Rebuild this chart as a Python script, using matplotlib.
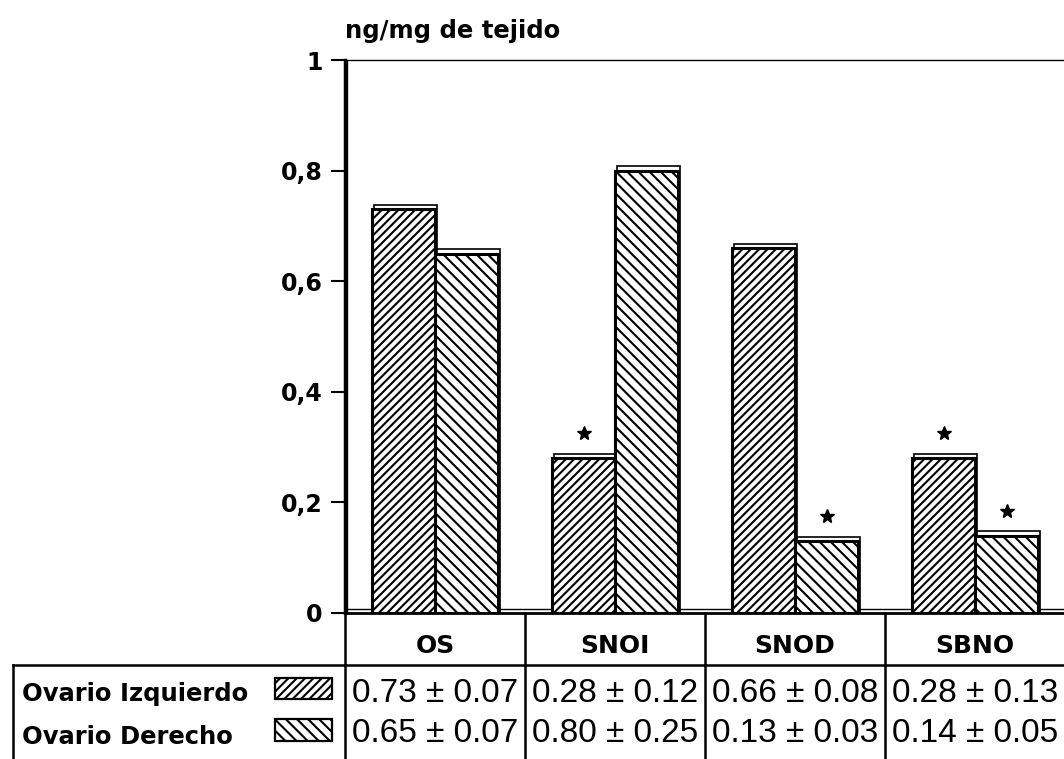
import matplotlib.pyplot as plt
from matplotlib.patches import Rectangle
from matplotlib.lines import Line2D

categories = ["OS", "SNOI", "SNOD", "SBNO"]
izquierdo = [0.73, 0.28, 0.66, 0.28]
derecho = [0.65, 0.80, 0.13, 0.14]
izq_err = [0.07, 0.12, 0.08, 0.13]
der_err = [0.07, 0.25, 0.03, 0.05]
izq_star = [False, True, False, True]
der_star = [False, False, True, True]
yticks = [0, 0.2, 0.4, 0.6, 0.8, 1]
ytick_labels = ["0", "0,2", "0,4", "0,6", "0,8", "1"]

plt.rcParams["font.family"] = ["DejaVu Sans"]
plt.rcParams["hatch.linewidth"] = 1.5

W, H = 1064, 759
fig = plt.figure(figsize=(W / 100, H / 100), dpi=100)

# overlay in pixel coordinates for the table
ov = fig.add_axes([0, 0, 1, 1])
ov.set_xlim(0, W)
ov.set_ylim(H, 0)
ov.axis("off")

# main axes
x0, x1, ytop, ybot = 345, W + 1, 60, 613
ax = fig.add_axes([x0 / W, (H - ybot) / H, (x1 - x0) / W, (ybot - ytop) / H])
ax.set_xlim(0, 4)
ax.set_ylim(0, 1)

bw = 0.35
hatch_izq = "////"
hatch_der = "\\\\\\"
xs = [i + 0.5 for i in range(len(categories))]
for i, x in enumerate(xs):
    for xc, v, hatch in ((x - bw / 2, izquierdo[i], hatch_izq),
                         (x + bw / 2, derecho[i], hatch_der)):
        # thin backing outline for the bevelled look
        ax.bar(xc + 0.012, v + 0.008, width=bw, facecolor="white",
               edgecolor="black", linewidth=1.2, zorder=2)
        ax.bar(xc, v, width=bw, facecolor="white", edgecolor="black",
               hatch=hatch, linewidth=2.2, zorder=3)
    if izq_star[i]:
        ax.plot(x - bw / 2, izquierdo[i] + 0.045, marker="*", color="black",
                markersize=10, zorder=4)
    if der_star[i]:
        ax.plot(x + bw / 2, derecho[i] + 0.045, marker="*", color="black",
                markersize=10, zorder=4)

ax.axhline(0.008, color="black", lw=1.0, zorder=1)
ax.axvline(0.012, color="black", lw=1.0, zorder=1)
ax.set_xticks([])
ax.set_yticks(yticks)
ax.set_yticklabels(ytick_labels, fontsize=17, fontweight="bold")
ax.tick_params(axis="y", length=10, width=1.5, pad=6)
ax.spines["left"].set_linewidth(2.5)
ax.spines["top"].set_linewidth(1.0)
ax.spines["bottom"].set_linewidth(2.0)
ax.spines["right"].set_visible(False)
ax.patch.set_alpha(0)
ax.text(0.0, 1.03, "ng/mg de tejido", transform=ax.transAxes,
        fontsize=17.5, fontweight="bold", ha="left", va="bottom")

# table
lw = 1.8
col_edges = [345, 525, 705, 885]
ov.add_line(Line2D([13, W], [665, 665], color="black", lw=lw))
for cx in col_edges:
    ov.add_line(Line2D([cx, cx], [613, H], color="black", lw=lw))
ov.add_line(Line2D([13, 13], [665, H], color="black", lw=lw))
for j, cat in enumerate(categories):
    cx = col_edges[j] + 90
    ov.text(cx, 646, cat, ha="center", va="center", fontsize=18,
            fontweight="bold")
    ov.text(cx, 693, f"{izquierdo[j]:.2f} \u00b1 {izq_err[j]:.2f}",
            ha="center", va="center", fontsize=24, family="Liberation Sans")
    ov.text(cx, 734, f"{derecho[j]:.2f} \u00b1 {der_err[j]:.2f}",
            ha="center", va="center", fontsize=24, family="Liberation Sans")

ov.text(22, 694, "Ovario Izquierdo", ha="left", va="center", fontsize=17.5,
        fontweight="bold")
ov.text(22, 737, "Ovario Derecho", ha="left", va="center", fontsize=17.5,
        fontweight="bold")
ov.add_patch(Rectangle((275, 678), 57, 21, facecolor="white", edgecolor="black",
                       hatch=hatch_izq, lw=1.6))
ov.add_patch(Rectangle((275, 719), 57, 22, facecolor="white", edgecolor="black",
                       hatch=hatch_der, lw=1.6))

fig.savefig("out.png", dpi=100)
